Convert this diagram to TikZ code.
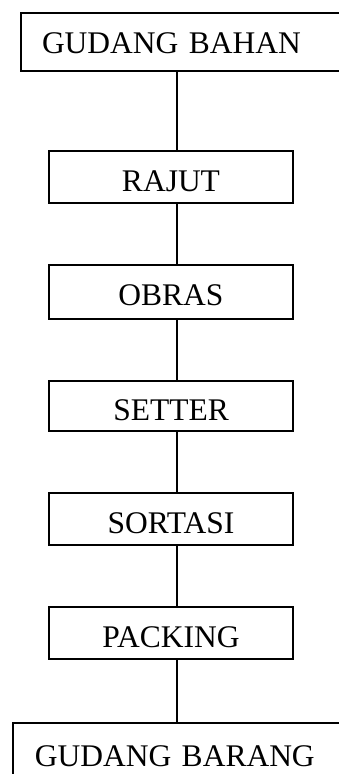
\documentclass[tikz,border=0pt]{standalone}
\usepackage{fontspec}
\setmainfont{Liberation Serif}
\begin{document}
\begin{tikzpicture}[x=1pt,y=-1pt,
  every node/.style={font=\fontsize{31.5}{36}\selectfont},
  procbox/.style={draw,line width=1.6pt,minimum width=244,inner sep=0pt,text height=28,text depth=0},
  widebox/.style={draw,line width=1.6pt,minimum width=348,inner ysep=0pt,text height=28,text depth=0,text width=306,align=left,inner xsep=21},
  conn/.style={line width=1.6pt}]
\useasboundingbox (0,0) rectangle (339,774);
\clip (0,0) rectangle (339,774);
\coordinate (axis) at (177,0);
\node[widebox,minimum height=58,text height=22] (gb) at (195,42) {GUDANG BAHAN};
\node[procbox,minimum height=52] (rajut) at (171,177) {RAJUT};
\node[procbox,minimum height=54,text height=26] (obras) at (171,292) {OBRAS};
\node[procbox,minimum height=50] (setter) at (171,406) {SETTER};
\node[procbox,minimum height=52] (sortasi) at (171,519) {SORTASI};
\node[procbox,minimum height=52] (packing) at (171,633) {PACKING};
\node[widebox,minimum height=80,text height=8,inner xsep=22,text width=304,anchor=north west] (gbr) at (12,722) {GUDANG BARANG};
\draw[conn] (gb.south -| axis) -- (rajut.north -| axis);
\draw[conn] (rajut.south -| axis) -- (obras.north -| axis);
\draw[conn] (obras.south -| axis) -- (setter.north -| axis);
\draw[conn] (setter.south -| axis) -- (sortasi.north -| axis);
\draw[conn] (sortasi.south -| axis) -- (packing.north -| axis);
\draw[conn] (packing.south -| axis) -- (gbr.north -| axis);
\end{tikzpicture}
\end{document}
